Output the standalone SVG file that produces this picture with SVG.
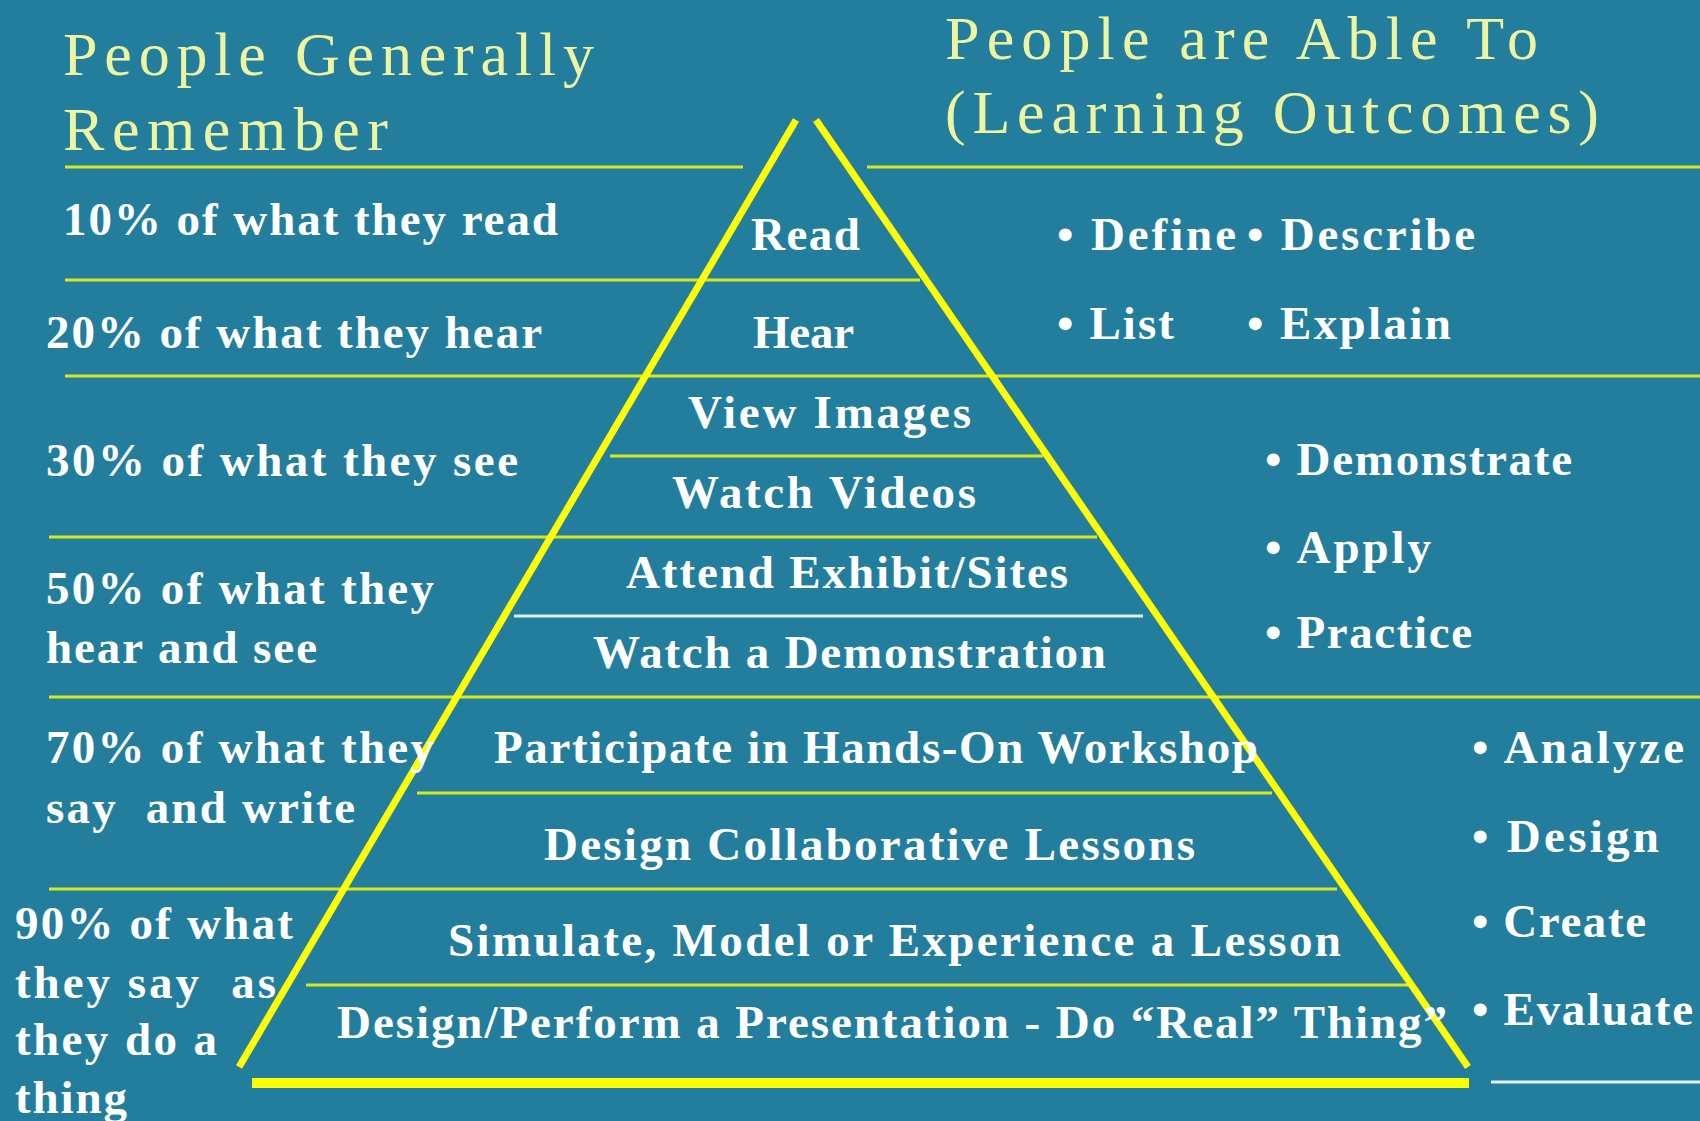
<svg xmlns="http://www.w3.org/2000/svg" width="1700" height="1121" viewBox="0 0 1700 1121">
<style>
.bg{fill:#237e9e}
.title{font-family:"Liberation Serif",serif;font-size:62px;fill:#eef5a0}
.t{font-family:"Liberation Serif",serif;font-weight:bold;font-size:47px;fill:#ffffff}
.div{stroke:#d6e81c;stroke-width:3;fill:none}
.wdiv{stroke:#dff0f0;stroke-width:3;fill:none}
.side{stroke:#ffff00;stroke-width:7;fill:none}
.base{stroke:#ffff00;stroke-width:10;fill:none}
</style>
<rect class="bg" x="0" y="0" width="1700" height="1121"/>
<g id="titles">
<text class="title" x="63" y="75" textLength="531" lengthAdjust="spacing">People Generally</text>
<text class="title" x="63" y="150" textLength="325" lengthAdjust="spacing">Remember</text>
<text class="title" x="945" y="59" textLength="593" lengthAdjust="spacing">People are Able To</text>
<text class="title" x="945" y="133" textLength="654" lengthAdjust="spacing">(Learning Outcomes)</text>
</g>
<g id="connectors">
<line class="div" x1="65" y1="167" x2="743" y2="167"/>
<line class="div" x1="867" y1="167" x2="1700" y2="167"/>
<line class="div" x1="65" y1="280" x2="920" y2="280"/>
<line class="div" x1="65" y1="376" x2="1700" y2="376"/>
<line class="div" x1="610" y1="456" x2="1043" y2="456"/>
<line class="div" x1="49" y1="537" x2="1097" y2="537"/>
<line class="wdiv" x1="514" y1="616" x2="1143" y2="616"/>
<line class="div" x1="49" y1="697" x2="1700" y2="697"/>
<line class="div" x1="417" y1="793" x2="1272" y2="793"/>
<line class="div" x1="49" y1="889" x2="1337" y2="889"/>
<line class="div" x1="306" y1="985" x2="1408" y2="985"/>
<line class="wdiv" x1="1491" y1="1082" x2="1700" y2="1082"/>
</g>
<g id="pyramid">
<line class="side" x1="796" y1="120" x2="239" y2="1067"/>
<line class="side" x1="816" y1="120" x2="1468" y2="1067"/>
<line class="base" x1="252" y1="1083" x2="1469" y2="1083"/>
</g>
<g id="remember">
<text class="t" x="63" y="235" textLength="495" lengthAdjust="spacing">10% of what they read</text>
<text class="t" x="46" y="348" textLength="496" lengthAdjust="spacing">20% of what they hear</text>
<text class="t" x="46" y="476" textLength="472" lengthAdjust="spacing">30% of what they see</text>
<text class="t" x="46" y="604" textLength="388" lengthAdjust="spacing">50% of what they</text>
<text class="t" x="46" y="663" textLength="271" lengthAdjust="spacing">hear and see</text>
<text class="t" x="46" y="763" textLength="388" lengthAdjust="spacing">70% of what they</text>
<text class="t" x="46" y="823" textLength="309" lengthAdjust="spacing" xml:space="preserve">say  and write</text>
<text class="t" x="15" y="939" textLength="278" lengthAdjust="spacing">90% of what</text>
<text class="t" x="15" y="998" textLength="261" lengthAdjust="spacing" xml:space="preserve">they say  as</text>
<text class="t" x="15" y="1055" textLength="202" lengthAdjust="spacing">they do a</text>
<text class="t" x="15" y="1113" textLength="112" lengthAdjust="spacing">thing</text>
</g>
<g id="levels">
<text class="t" x="751" y="250" textLength="109" lengthAdjust="spacing">Read</text>
<text class="t" x="753" y="348" textLength="101" lengthAdjust="spacing">Hear</text>
<text class="t" x="688" y="428" textLength="283" lengthAdjust="spacing">View Images</text>
<text class="t" x="672" y="508" textLength="304" lengthAdjust="spacing">Watch Videos</text>
<text class="t" x="626" y="588" textLength="442" lengthAdjust="spacing">Attend Exhibit/Sites</text>
<text class="t" x="593" y="668" textLength="513" lengthAdjust="spacing">Watch a Demonstration</text>
<text class="t" x="494" y="763" textLength="764" lengthAdjust="spacing">Participate in Hands-On Workshop</text>
<text class="t" x="544" y="860" textLength="651" lengthAdjust="spacing">Design Collaborative Lessons</text>
<text class="t" x="448" y="956" textLength="893" lengthAdjust="spacing">Simulate, Model or Experience a Lesson</text>
<text class="t" x="337" y="1038" textLength="1110" lengthAdjust="spacing">Design/Perform a Presentation - Do “Real” Thing”</text>
</g>
<g id="outcomes">
<text class="t" x="1057" y="250" textLength="179" lengthAdjust="spacing">• Define</text>
<text class="t" x="1247" y="250" textLength="228" lengthAdjust="spacing">• Describe</text>
<text class="t" x="1057" y="339" textLength="117" lengthAdjust="spacing">• List</text>
<text class="t" x="1247" y="339" textLength="204" lengthAdjust="spacing">• Explain</text>
<text class="t" x="1265" y="475" textLength="307" lengthAdjust="spacing">• Demonstrate</text>
<text class="t" x="1265" y="563" textLength="166" lengthAdjust="spacing">• Apply</text>
<text class="t" x="1265" y="648" textLength="207" lengthAdjust="spacing">• Practice</text>
<text class="t" x="1472" y="763" textLength="212" lengthAdjust="spacing">• Analyze</text>
<text class="t" x="1472" y="852" textLength="187" lengthAdjust="spacing">• Design</text>
<text class="t" x="1472" y="937" textLength="174" lengthAdjust="spacing">• Create</text>
<text class="t" x="1472" y="1025" textLength="221" lengthAdjust="spacing">• Evaluate</text>
</g>
</svg>
